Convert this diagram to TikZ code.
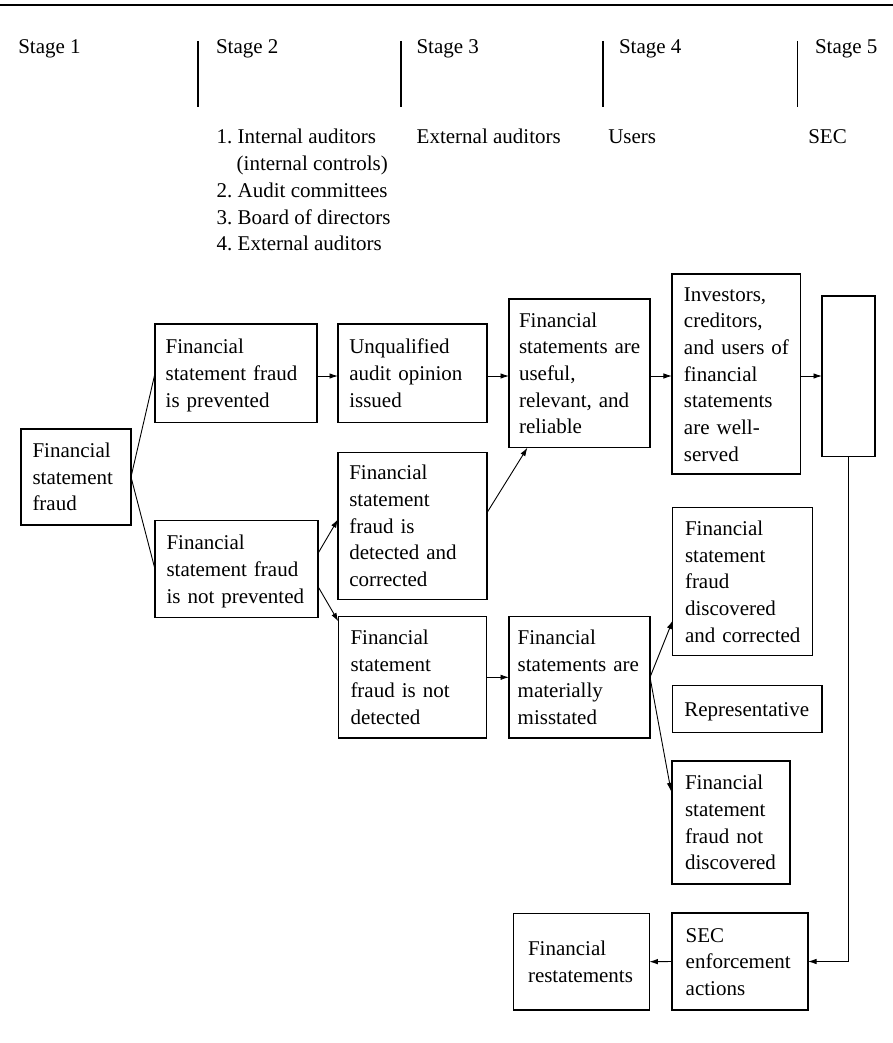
\documentclass[tikz,border=0pt]{standalone}
\usepackage{fontspec}
\setmainfont{Liberation Serif}
\usetikzlibrary{arrows.meta,calc}
\hyphenpenalty=10000
\exhyphenpenalty=10000
\begin{document}
\begin{tikzpicture}[x=1pt,y=-1pt,
  txt/.style={font=\fontsize{21pt}{26.7pt}\selectfont, inner sep=0pt, outer sep=0pt},
  box/.style={draw, line width=1.2pt, rectangle, outer sep=0pt, inner ysep=0pt, align=left,
    font=\fontsize{21pt}{26.7pt}\selectfont},
  arr/.style={line width=0.9pt, -{Latex[length=8.5pt,width=5.5pt]}},
  ln/.style={line width=0.9pt},
  sep/.style={line width=1.1pt}
]
\useasboundingbox (0,0) rectangle (893,1043);
\newcommand\bx[9]{\node[box, minimum width=#4pt, minimum height=#5pt, inner xsep=#6pt, text width=#7pt, text height=14.5pt, text depth=#8pt] (#1) at (#2,#3) {#9};}

% header
\draw[line width=2.7pt] (0,5) -- (893,5);
\node[txt, anchor=base west] (s1) at (18.3,53.3) {Stage 1};
\node[txt, anchor=base west] (s2) at (216,53.3) {Stage 2};
\node[txt, anchor=base west] (s3) at (416.5,53.3) {Stage 3};
\node[txt, anchor=base west] (s4) at (619,53.3) {Stage 4};
\node[txt, anchor=base west] (s5) at (815,53.3) {Stage 5};
\draw[sep] (198,41) -- (198,106.7);
\draw[sep] (401,41) -- (401,106.7);
\draw[sep] (603,41) -- (603,106.7);
\draw[sep] (797.5,41) -- (797.5,106.7);

\node[txt, anchor=base west] (l1) at (216.7,144) {1.~Internal auditors};
\node[txt, anchor=base west] (l2) at (236.7,170.7) {(internal controls)};
\node[txt, anchor=base west] (l3) at (216.7,197.3) {2.~Audit committees};
\node[txt, anchor=base west] (l4) at (216.7,224) {3.~Board of directors};
\node[txt, anchor=base west] (l5) at (216.7,250.7) {4.~External auditors};
\node[txt, anchor=base west] (ea) at (416.7,144) {External auditors};
\node[txt, anchor=base west] (us) at (608.3,144) {Users};
\node[txt, anchor=base west] (sc) at (808.3,144) {SEC};

% boxes: name, cx, cy, w, h, pad, textwidth, depth=(lines-1)*26.7, text
\bx{fsf}{76}{477}{110}{96}{11.5}{87}{53.4}{Financial\\statement\\fraud}
\bx{prev}{236}{373.3}{162}{98.7}{10.7}{140.6}{53.4}{Financial\\statement~fraud\\is~prevented}
\bx{notprev}{236.5}{569.2}{163}{97}{11.5}{140}{53.4}{Financial\\statement~fraud\\is~not~prevented}
\bx{unq}{412.5}{373.3}{149}{98.7}{11.3}{126.4}{53.4}{Unqualified\\audit~opinion\\issued}
\bx{det}{412.5}{525.8}{149}{147}{11.3}{126.4}{106.8}{Financial\\statement\\fraud~is\\detected~and\\corrected}
\bx{notdet}{412.5}{677.3}{148.4}{121.3}{12.2}{124}{80.1}{Financial\\statement\\fraud~is~not\\detected}
\bx{useful}{579.5}{373.3}{141}{148.7}{10}{121}{106.8}{Financial\\statements~are\\useful,\\relevant,~and\\reliable}
\bx{mat}{579.5}{677.3}{141}{121.3}{8.7}{123.6}{80.1}{Financial\\statements~are\\materially\\misstated}
\bx{inv}{736.3}{374}{128.7}{200}{12}{104.7}{160.2}{Investors,\\creditors,\\and~users~of\\financial\\statements\\are~well-\\served}
\bx{empty}{848.5}{376.3}{53}{160.7}{0}{53}{0}{}
\bx{disc}{742.7}{581.7}{140}{148}{12.3}{115.4}{106.8}{Financial\\statement\\fraud\\discovered\\and~corrected}
\bx{rep}{747.3}{708.8}{149.3}{47}{11.6}{126}{0}{Representative}
\bx{notdisc}{731}{822.5}{118}{123}{13}{92}{80.1}{Financial\\statement\\fraud~not\\discovered}
\bx{sec}{740}{961.5}{136}{97}{13.7}{108.6}{53.4}{SEC\\enforcement\\actions}
\bx{rest}{581.3}{961.7}{136}{96.7}{14.7}{106.6}{26.7}{Financial\\restatements}

% connectors
\draw[ln] (fsf.east) -- (prev.west);
\draw[ln] (fsf.east) -- (notprev.west);
\draw[arr] ([yshift=-2.7pt]prev.east) -- ([yshift=-2.7pt]unq.west);
\draw[arr] ([yshift=-2.7pt]unq.east) -- ([yshift=-2.7pt]useful.west);
\draw[arr] ([yshift=-2.7pt]useful.east) -- ([yshift=-2.7pt]useful.east -| inv.west);
\draw[arr] ([yshift=-2pt]inv.east) -- ([yshift=-2pt]inv.east -| empty.west);
\draw[arr] (notprev.11) -- (det.175);
\draw[arr] (notprev.-12) -- (notdet.143);
\draw[arr] (det.10) -- (useful.-125);
\draw[arr] (notdet.east) -- (mat.west);
\draw[arr] (mat.east) -- (disc.-151);
\draw[arr, shorten >=5pt] (mat.east) -- (notdisc.156);
\draw[arr] (empty.south) |- (sec.east);
\draw[arr] (sec.west) -- (rest.east);
\end{tikzpicture}
\end{document}
